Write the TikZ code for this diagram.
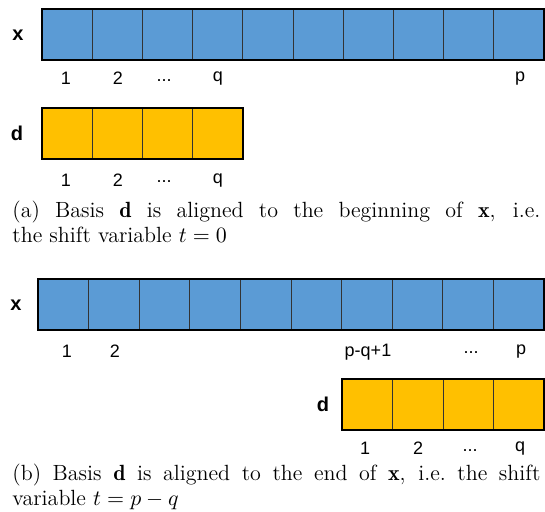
\documentclass[tikz,border=0pt]{standalone}
\usepackage{fontspec}
\newfontfamily\labfont{Liberation Sans}
\definecolor{xblue}{HTML}{5B9BD5}
\definecolor{dorange}{HTML}{FFC000}
\begin{document}
\begin{tikzpicture}[x=0.5pt,y=-0.5pt,
  cellbase/.style={draw=black!80, line width=0.4pt, minimum height=25.5pt, inner sep=0pt, outer sep=0pt, anchor=north west},
  xcell/.style={cellbase, fill=xblue},
  dcell/.style={cellbase, fill=dorange},
  arrframe/.style={draw=black, line width=1pt},
  lab/.style={font=\labfont\fontsize{9}{11}\selectfont, inner sep=0pt},
  vname/.style={font=\labfont\bfseries\fontsize{10}{11}\selectfont, inner sep=0pt},
  captext/.style={anchor=north west, inner sep=0pt, text width=264pt, align=justify, font=\fontsize{11}{12.2}\selectfont}]
\useasboundingbox (0,0) rectangle (545,512);
% ---------- (a) ----------
\foreach \i in {1,...,10}
  \node[xcell, minimum width=25.1pt] (xa\i) at ({42+(\i-1)*50.2},9) {};
\draw[arrframe] (xa1.north west) rectangle (xa10.south east);
\foreach \i in {1,...,4}
  \node[dcell, minimum width=25.125pt] (da\i) at ({42+(\i-1)*50.25},108) {};
\draw[arrframe] (da1.north west) rectangle (da4.south east);
\node[vname] (xna) at (18,35) {x};
\node[vname] (dna) at (17,133) {d};
\node[lab] (xl1) at (66,78) {1};
\node[lab] (xl2) at (118,78) {2};
\node[lab] (xl3) at (164,81) {...};
\node[lab] (xl4) at (218,79) {q};
\node[lab] (xl5) at (520,79) {p};
\node[lab] (dl1) at (66,180) {1};
\node[lab] (dl2) at (118,180) {2};
\node[lab] (dl3) at (164,182) {...};
\node[lab] (dl4) at (218,181) {q};
\node[captext] (capa) at (12,201) {(a) Basis $\mathbf{d}$ is aligned to the beginning of $\mathbf{x}$, i.e.\linebreak the shift variable $t=0$};
% ---------- (b) ----------
\foreach \i in {1,...,10}
  \node[xcell, minimum width=25.3pt] (xb\i) at ({38+(\i-1)*50.6},279) {};
\draw[arrframe] (xb1.north west) rectangle (xb10.south east);
\foreach \i in {1,...,4}
  \node[dcell, minimum width=25.25pt] (db\i) at ({342+(\i-1)*50.5},379) {};
\draw[arrframe] (db1.north west) rectangle (db4.south east);
\node[vname] (xnb) at (16,305) {x};
\node[vname] (dnb) at (323,404) {d};
\node[lab] (yl1) at (67,351) {1};
\node[lab] (yl2) at (115,351) {2};
\node[lab] (yl7) at (368,352) {p-q+1};
\node[lab] (yl9) at (471,353) {...};
\node[lab] (yl10) at (521,352) {p};
\node[lab] (el1) at (365,448) {1};
\node[lab] (el2) at (418,448) {2};
\node[lab] (el3) at (470,451) {...};
\node[lab] (el4) at (520,449) {q};
\node[captext] (capb) at (12,464) {(b) Basis $\mathbf{d}$ is aligned to the end of $\mathbf{x}$, i.e.\ the shift\linebreak variable $t=p-q$};
\end{tikzpicture}
\end{document}
